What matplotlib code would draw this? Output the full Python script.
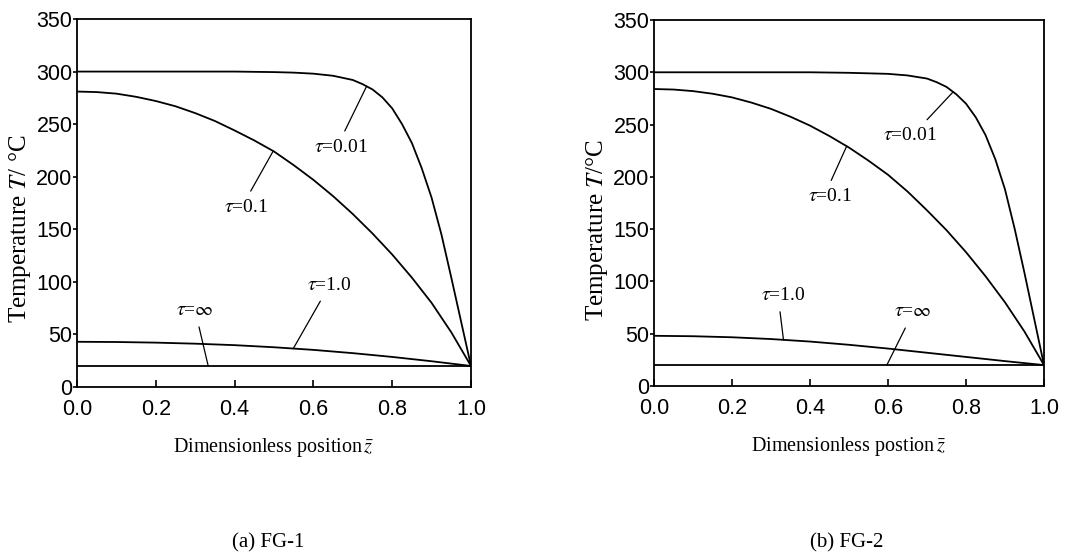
import numpy as np
import matplotlib
matplotlib.use("Agg")
import matplotlib.pyplot as plt

plt.rcParams['mathtext.fontset'] = 'stix'
plt.rcParams['font.family'] = ['Liberation Serif', 'DejaVu Serif']

# ---------------- data ----------------
z_fast = [0.0, 0.1, 0.2, 0.3, 0.4, 0.5, 0.55, 0.6, 0.65, 0.7, 0.725, 0.75, 0.775,
          0.8, 0.825, 0.85, 0.875, 0.9, 0.925, 0.95, 0.975, 1.0]
z_mid = [0.0, 0.05, 0.1, 0.15, 0.2, 0.25, 0.3, 0.35, 0.4, 0.45, 0.5, 0.55, 0.6,
         0.65, 0.7, 0.75, 0.8, 0.85, 0.9, 0.95, 1.0]
z_slow = [0.0, 0.1, 0.2, 0.3, 0.4, 0.5, 0.6, 0.7, 0.8, 0.9, 1.0]
z_inf = [0.0, 1.0]

# FG-1
fg1_tau001 = [300, 300, 300, 300, 300, 299.5, 299, 298, 296, 292, 288, 283, 275.5,
              265, 250, 232, 208, 180, 145, 104, 62, 20]
fg1_tau01 = [281, 280.5, 279, 276, 272, 267, 260.5, 253, 244, 234.5, 224, 211, 197,
             181.5, 164.5, 146, 126, 104, 80, 52, 20]
fg1_tau1 = [43, 42.8, 42.2, 41.2, 39.8, 37.8, 35.3, 32.2, 28.6, 24.5, 20]
fg1_tauinf = [20, 20]

# FG-2
fg2_tau001 = [300, 300, 300, 300, 300, 299.5, 299, 298.5, 297, 294, 290.5, 286, 279,
              270, 257, 240, 217, 188, 150, 108, 64, 20]
fg2_tau01 = [284, 283.5, 282, 279.5, 276, 271, 265, 257.5, 249, 239, 228, 215.5, 202,
             186, 168, 149, 128, 105, 80, 52, 20]
fg2_tau1 = [48, 47.6, 46.6, 44.9, 42.5, 39.4, 35.8, 31.8, 27.8, 23.8, 20]
fg2_tauinf = [20, 20]

xticks = [0.0, 0.2, 0.4, 0.6, 0.8, 1.0]
xticklabels = ['0.0', '0.2', '0.4', '0.6', '0.8', '1.0']
yticks = [0, 50, 100, 150, 200, 250, 300, 350]

panels = [
    dict(pos=[77/1083, 1-387/557, 394/1083, 368/557],
         series=[(z_fast, fg1_tau001), (z_mid, fg1_tau01), (z_slow, fg1_tau1), (z_inf, fg1_tauinf)],
         ylabel=r'Temperature $T$/ °C', ylab_xy=(-0.145, 0.43),
         xlabel=r'Dimensionless position$\,\bar{z}$',
         caption='(a) FG-1', capx=268/1083,
         ann=[(r'$\tau$=0.01', (0.67, 228), 0.735, (0.5, 1.0)),
              (r'$\tau$=0.1', (0.43, 171), 0.498, (0.5, 1.0)),
              (r'$\tau$=1.0', (0.64, 97), 0.549, (0.4, 0.0)),
              (r'$\tau$=$\infty$', (0.30, 73), 0.333, (0.55, 0.0))]),
    dict(pos=[654/1083, 1-386/557, 390/1083, 366/557],
         series=[(z_fast, fg2_tau001), (z_mid, fg2_tau01), (z_slow, fg2_tau1), (z_inf, fg2_tauinf)],
         ylabel=r'Temperature $T$/°C', ylab_xy=(-0.145, 0.425),
         xlabel=r'Dimensionless postion$\,\bar{z}$',
         caption='(b) FG-2', capx=847/1083,
         ann=[(r'$\tau$=0.01', (0.656, 240), 0.767, (0.7, 1.0)),
              (r'$\tau$=0.1', (0.451, 181), 0.494, (0.45, 1.0)),
              (r'$\tau$=1.0', (0.332, 87), 0.332, (0.4, 0.0)),
              (r'$\tau$=$\infty$', (0.664, 71), 0.597, (0.4, 0.0))]),
]

fig = plt.figure(figsize=(10.83, 5.57), dpi=100)

for p in panels:
    ax = fig.add_axes(p['pos'])
    for zz, s in p['series']:
        ax.plot(zz, s, color='black', lw=1.3)
    ax.set_xlim(0, 1.0)
    ax.set_ylim(0, 350)
    ax.set_xticks(xticks)
    ax.set_xticklabels(xticklabels, family='Liberation Sans', fontsize=15.5)
    ax.set_yticks(yticks)
    ax.set_yticklabels([str(v) for v in yticks], family='Liberation Sans', fontsize=15.5)
    ax.tick_params(axis='x', direction='in', length=5, width=1.2, pad=8.5)
    ax.tick_params(axis='y', direction='out', length=3, width=1.2, pad=0.3)
    for sp in ax.spines.values():
        sp.set_linewidth(1.3)
    ax.set_ylabel(p['ylabel'], fontsize=18)
    ax.yaxis.set_label_coords(*p['ylab_xy'])
    ax.yaxis.label.set_verticalalignment('center')
    ax.set_xlabel(p['xlabel'], fontsize=14.5, labelpad=12)
    for i, (txt, (tx, ty), xt, rp) in enumerate(p['ann']):
        zz, s = p['series'][i]
        yt = np.interp(xt, zz, s)
        ax.annotate(txt, xy=(xt, yt), xytext=(tx, ty), fontsize=14,
                    ha='center', va='center',
                    arrowprops=dict(arrowstyle='-', lw=0.9, color='black',
                                    relpos=rp, shrinkA=4, shrinkB=0))
    fig.text(p['capx'], 1-543/557, p['caption'], fontsize=15,
             ha='center', va='center')

fig.savefig('out.png', dpi=100)
